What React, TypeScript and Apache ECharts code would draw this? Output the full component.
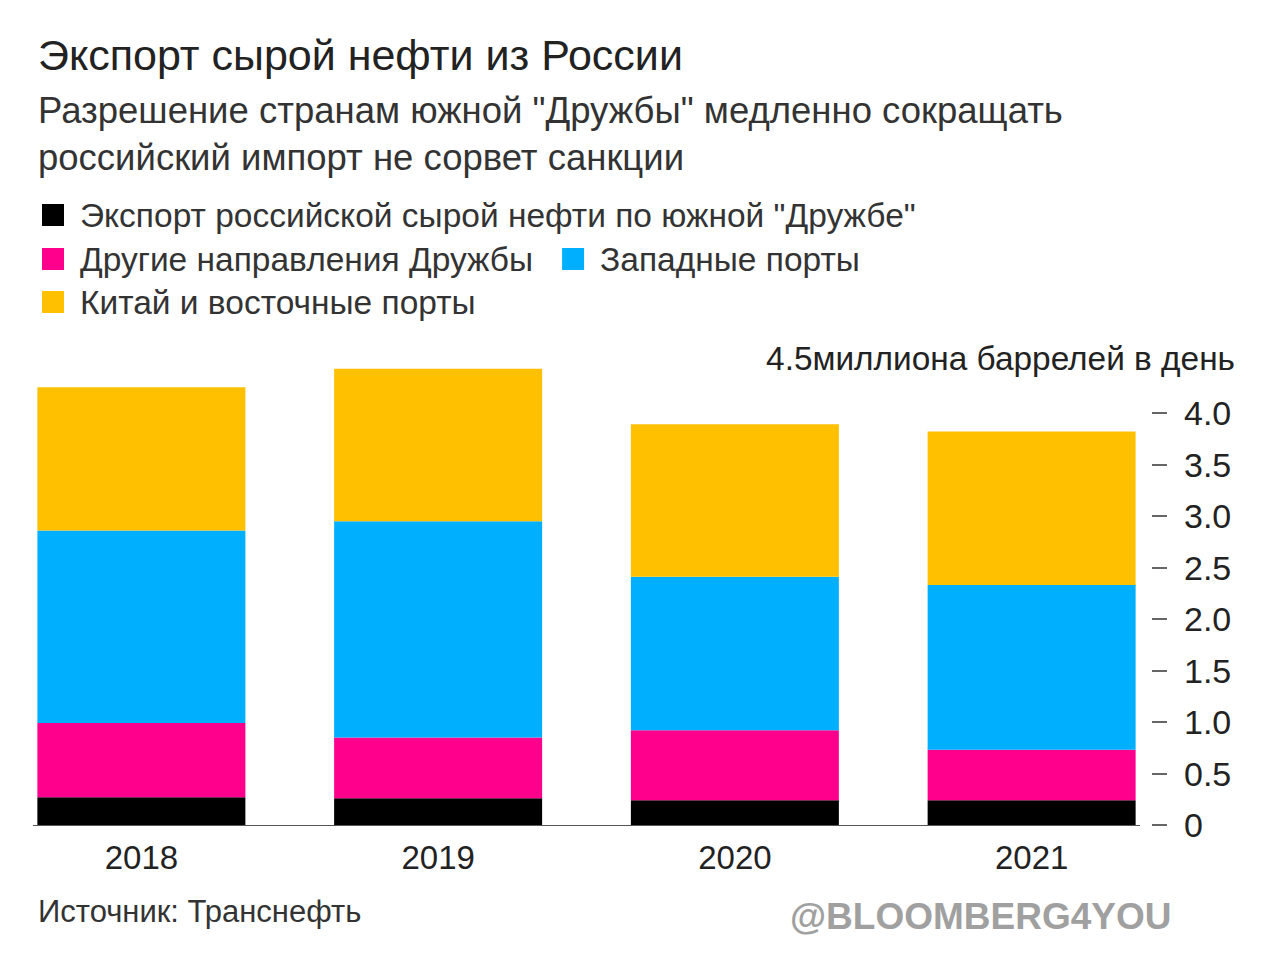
import React, { useEffect, useRef } from "react";
import * as echarts from "echarts";

const years = ["2018", "2019", "2020", "2021"];
const druzhbaSouth = [0.27, 0.26, 0.24, 0.24];
const druzhbaOther = [0.72, 0.59, 0.68, 0.49];
const westernPorts = [1.87, 2.1, 1.49, 1.6];
const chinaEast = [1.39, 1.48, 1.48, 1.49];
const yTicks = [0, 0.5, 1, 1.5, 2, 2.5, 3, 3.5, 4];
const yMax = 4.5;
const unitLabel = "миллиона баррелей в день";

const seriesNames = [
  'Экспорт российской сырой нефти по южной "Дружбе"',
  "Другие направления Дружбы",
  "Западные порты",
  "Китай и восточные порты",
];
const colors = ["#000000", "#FF008C", "#00B0FF", "#FFC000"];

const titleText = "Экспорт сырой нефти из России";
const subtitleLines = [
  'Разрешение странам южной "Дружбы" медленно сокращать',
  "российский импорт не сорвет санкции",
];
const sourceText = "Источник: Транснефть";
const watermark = "@BLOOMBERG4YOU";

const FONT = "'Liberation Sans', Arial, sans-serif";

export default function App() {
  const ref = useRef<HTMLDivElement>(null);
  useEffect(() => {
    if (!ref.current) return;
    const chart = echarts.init(ref.current, null, { renderer: "svg" });
    const values = [druzhbaSouth, druzhbaOther, westernPorts, chinaEast];
    const legendBase = {
      orient: "horizontal",
      icon: "rect",
      itemWidth: 22,
      itemHeight: 22,
      itemGap: 29,
      left: 42,
      padding: 0,
      selectedMode: false,
      textStyle: { fontFamily: FONT, fontSize: 33.5, color: "#333", padding: [0, 0, 0, 11] },
    };
    chart.setOption({
      animation: false,
      backgroundColor: "#ffffff",
      textStyle: { fontFamily: FONT },
      legend: [
        { ...legendBase, top: 198, data: [seriesNames[0]] },
        { ...legendBase, top: 242, data: [seriesNames[1], seriesNames[2]] },
        { ...legendBase, top: 285, data: [seriesNames[3]] },
      ],
      grid: {
        left: -7,
        right: 100,
        top: 361.5,
        bottom: 135,
        containLabel: false,
        outerBoundsMode: "none",
      },
      xAxis: {
        type: "category",
        data: years,
        axisLine: { show: false },
        axisTick: { show: false },
        axisLabel: { fontFamily: FONT, fontSize: 33, color: "#222", margin: 16 },
      },
      yAxis: {
        type: "value",
        position: "right",
        min: 0,
        max: yMax,
        interval: 0.5,
        offset: -13,
        splitLine: { show: false },
        axisLine: { show: false },
        axisTick: {
          show: true,
          inside: true,
          length: 15,
          lineStyle: { color: "#666", width: 2 },
          customValues: yTicks,
        },
        axisLabel: {
          fontFamily: FONT,
          fontSize: 34,
          color: "#222",
          margin: 17,
          customValues: yTicks,
          formatter: (v: number) => (v === 0 ? "0" : v.toFixed(1)),
        },
      },
      series: values.map((d, i) => ({
        name: seriesNames[i],
        type: "bar",
        stack: "total",
        barWidth: 208,
        data: d,
        itemStyle: { color: colors[i] },
        emphasis: { disabled: true },
      })),
      graphic: [
        {
          type: "text",
          x: 38,
          y: 55,
          style: { text: titleText, font: `43px ${FONT}`, fill: "#222", textVerticalAlign: "middle" },
        },
        {
          type: "text",
          x: 38,
          y: 110,
          style: { text: subtitleLines[0], font: `36.5px ${FONT}`, fill: "#333", textVerticalAlign: "middle" },
        },
        {
          type: "text",
          x: 38,
          y: 157,
          style: { text: subtitleLines[1], font: `36.5px ${FONT}`, fill: "#333", textVerticalAlign: "middle" },
        },
        {
          type: "text",
          x: 1235,
          y: 358,
          style: {
            text: `${yMax}${unitLabel}`,
            font: `33.4px ${FONT}`,
            fill: "#222",
            textAlign: "right",
            textVerticalAlign: "middle",
          },
        },
        {
          type: "line",
          z: 10,
          shape: { x1: 33, y1: 825.5, x2: 1140, y2: 825.5 },
          style: { stroke: "#555", lineWidth: 1 },
        },
        {
          type: "text",
          x: 38,
          y: 911,
          style: { text: sourceText, font: `31px ${FONT}`, fill: "#333", textVerticalAlign: "middle" },
        },
        {
          type: "text",
          x: 790,
          y: 916,
          style: {
            text: watermark,
            font: `bold 37px ${FONT}`,
            fill: "#a0a0a0",
            textVerticalAlign: "middle",
          },
        },
      ],
    });
    return () => chart.dispose();
  }, []);
  return (
    <div
      ref={ref}
      style={{ position: "absolute", left: 0, top: 0, width: 1280, height: 960, background: "#fff" }}
    />
  );
}
